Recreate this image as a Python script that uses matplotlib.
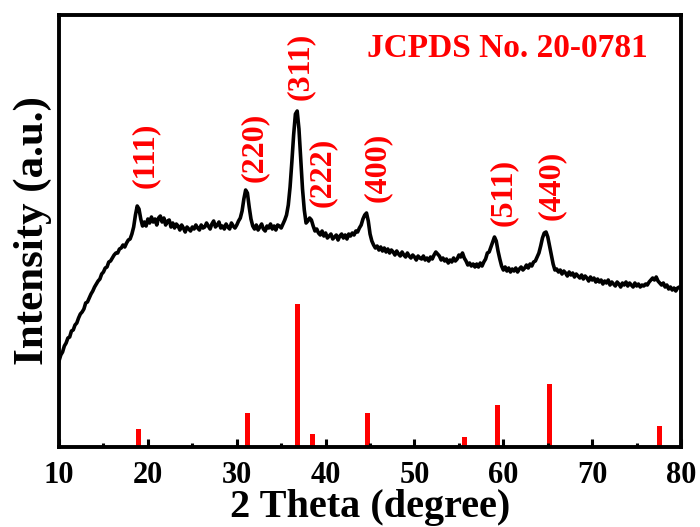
import numpy as np
import matplotlib
matplotlib.use('Agg')
import matplotlib.pyplot as plt
from matplotlib.ticker import MultipleLocator

# XRD pattern (0.2 degree steps, 10 -> 80 degree)
intensity = [
    86, 92, 95, 101, 104,        # 10
    109, 110, 116, 117, 122,     # 11
    124, 129, 133, 135, 138,     # 12
    144, 145, 149, 153, 156,     # 13
    160, 163, 166, 168, 173,     # 14
    175, 179, 180, 185, 186,     # 15
    189, 192, 194, 194, 198,     # 16
    199, 202, 200, 204, 207,     # 17
    208, 213, 220, 232, 241,     # 18
    238, 228, 221, 225, 221,     # 19
    228, 224, 230, 225, 228,     # 20
    222, 229, 231, 225, 229,     # 21
    222, 226, 227, 220, 224,     # 22
    219, 223, 221, 217, 222,     # 23
    219, 215, 220, 218, 216,     # 24
    220, 218, 222, 219, 217,     # 25
    222, 219, 220, 224, 221,     # 26
    218, 223, 226, 220, 222,     # 27
    225, 219, 221, 218, 223,     # 28
    220, 218, 224, 221, 219,     # 29
    222, 226, 229, 236, 248,     # 30
    257, 254, 240, 228, 221,     # 31
    218, 222, 217, 220, 223,     # 32
    218, 216, 221, 219, 223,     # 33
    218, 221, 217, 222, 221,     # 34
    219, 223, 227, 232, 242,     # 35
    260, 285, 312, 333, 336,     # 36
    318, 288, 258, 237, 224,     # 37
    226, 229, 227, 221, 216,     # 38
    218, 214, 212, 216, 211,     # 39
    214, 209, 211, 213, 208,     # 40
    210, 212, 207, 211, 213,     # 41
    209, 212, 208, 213, 211,     # 42
    214, 212, 216, 215, 219,     # 43
    222, 228, 232, 234, 226,     # 44
    213, 206, 202, 199, 201,     # 45
    197, 200, 196, 199, 195,     # 46
    198, 194, 197, 195, 192,     # 47
    196, 193, 191, 195, 192,     # 48
    190, 194, 191, 189, 192,     # 49
    190, 187, 191, 189, 188,     # 50
    191, 187, 189, 186, 190,     # 51
    188, 192, 195, 193, 191,     # 52
    187, 189, 186, 188, 184,     # 53
    187, 185, 189, 186, 188,     # 54
    192, 190, 194, 189, 186,     # 55
    182, 184, 181, 183, 180,     # 56
    183, 180, 184, 181, 185,     # 57
    188, 194, 195, 200, 205,     # 58
    210, 206, 196, 188, 181,     # 59
    177, 180, 176, 179, 175,     # 60
    178, 176, 179, 175, 178,     # 61
    180, 177, 179, 182, 179,     # 62
    183, 181, 185, 186, 190,     # 63
    194, 201, 209, 214, 215,     # 64
    210, 201, 192, 183, 177,     # 65
    178, 175, 177, 173, 176,     # 66
    174, 171, 175, 172, 174,     # 67
    170, 173, 171, 169, 172,     # 68
    168, 171, 169, 166, 170,     # 69
    167, 169, 165, 168, 165,     # 70
    167, 163, 166, 164, 167,     # 71
    162, 165, 163, 161, 165,     # 72
    163, 160, 164, 162, 165,     # 73
    161, 164, 162, 160, 164,     # 74
    161, 163, 160, 162, 161,     # 75
    163, 162, 165, 167, 169,     # 76
    167, 170, 166, 164, 162,     # 77
    164, 160, 162, 158, 160,     # 78
    157, 159, 156, 159, 160,     # 79
    158,                         # 80
]
two_theta = np.linspace(10, 80, len(intensity))

# JCPDS 20-0781 reference lines
ref_pos = [18.9, 31.2, 36.8, 38.5, 44.7, 55.6, 59.3, 65.2, 68.4, 77.6]
ref_int = [18, 34, 143, 13, 34, 10, 42, 63, 1.5, 21]

# hkl labels
hkl = ['(111)', '(220)', '(311)', '(222)', '(400)', '(511)', '(440)']
hkl_x = [19.7, 32.0, 37.1, 39.6, 45.8, 60.0, 65.4]
hkl_y = [292, 300, 381, 275, 280, 255, 262]

plt.rcParams['font.family'] = 'Liberation Serif'
plt.rcParams['font.weight'] = 'bold'

fig = plt.figure(figsize=(7, 5.27), dpi=100)
ax = fig.add_axes([0.0843, 0.1518, 0.8887, 0.8197])

ax.plot(two_theta, intensity, color='black', linewidth=2.6)
ax.bar(ref_pos, ref_int, width=0.55, color='#ff0000', linewidth=0)

for lab, x, y in zip(hkl, hkl_x, hkl_y):
    ax.text(x, y, lab, color='#ff0000', fontsize=23, fontweight='bold',
            rotation=90, ha='center', va='center')
ax.text(60.4, 399, 'JCPDS No. 20-0781', color='#ff0000', fontsize=24,
        fontweight='bold', ha='center', va='center')

ax.set_xlim(10, 80)
ax.set_ylim(0, 432)
ax.set_yticks([])
ax.xaxis.set_major_locator(MultipleLocator(10))
ax.xaxis.set_minor_locator(MultipleLocator(5))
ax.tick_params(axis='x', which='major', direction='in', length=6, width=2.2,
               labelsize=22, pad=10)
ax.tick_params(axis='x', which='minor', direction='in', length=3, width=2.2)
for s in ax.spines.values():
    s.set_linewidth(2.8)

ax.set_xlabel('2 Theta (degree)', fontsize=29, fontweight='bold', labelpad=-1)
ax.set_ylabel('Intensity (a.u.)', fontsize=31, fontweight='bold', labelpad=5)

plt.savefig('out.png', dpi=100)
